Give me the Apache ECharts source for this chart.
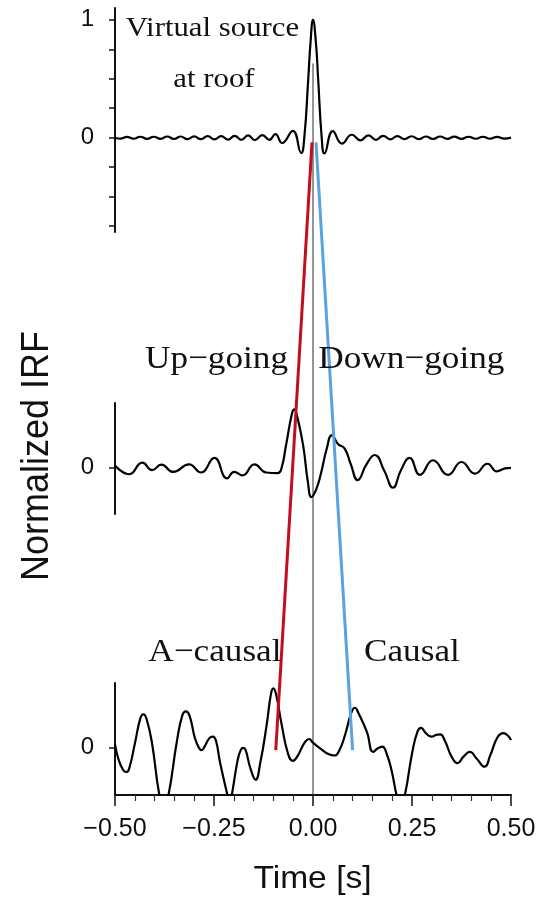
<!DOCTYPE html>
<html>
<head>
<meta charset="utf-8">
<script src="https://cdn.jsdelivr.net/npm/echarts@6/dist/echarts.min.js"></script>
<style>
  html, body { margin: 0; padding: 0; background: #fff; }
  #chart { width: 556px; height: 902px; }
</style>
</head>
<body>
<div id="chart"></div>
<script>
// Time window of the impulse response functions (s)
const timeRange = [-0.5, 0.5];
// Shared amplitude window of every panel (normalized units)
const ampRange = [-0.8, 1.1];

// Axis ticks
const timeTickLabels = [-0.5, -0.25, 0, 0.25, 0.5];
const roofTicks = [-0.75, -0.5, -0.25, 0, 0.25, 0.5, 0.75, 1];
const roofTickLabels = [0, 1];
const zeroTick = [0];

// Virtual source at roof: [time s, normalized IRF]
const roofIRF = [
  [-0.500, 0.000], [-0.486, -0.008], [-0.470, 0.007], [-0.453, -0.009], [-0.436, 0.008],
  [-0.419, -0.010], [-0.402, 0.008], [-0.385, -0.010], [-0.368, 0.010], [-0.351, -0.011],
  [-0.334, 0.010], [-0.317, -0.012], [-0.300, 0.011], [-0.283, -0.013], [-0.266, 0.013],
  [-0.249, -0.014], [-0.232, 0.014], [-0.215, -0.016], [-0.198, 0.016], [-0.181, -0.018],
  [-0.164, 0.020], [-0.147, -0.020], [-0.128, 0.022], [-0.110, -0.018], [-0.095, 0.030],
  [-0.078, -0.045], [-0.051, 0.058], [-0.030, -0.130], [-0.022, 0.000], [-0.012, 0.500],
  [-0.006, 0.820], [0.000, 1.000], [0.007, 0.820], [0.013, 0.500], [0.022, 0.000],
  [0.029, -0.134], [0.050, 0.055], [0.073, -0.050], [0.098, 0.025], [0.120, -0.022],
  [0.140, 0.020], [0.159, -0.018], [0.177, 0.016], [0.195, -0.014], [0.213, 0.014],
  [0.231, -0.012], [0.249, 0.012], [0.267, -0.012], [0.285, 0.010], [0.303, -0.011],
  [0.321, 0.010], [0.339, -0.010], [0.357, 0.009], [0.375, -0.010], [0.393, 0.008],
  [0.411, -0.009], [0.429, 0.008], [0.447, -0.009], [0.465, 0.007], [0.483, -0.008],
  [0.500, 0.000]
];

// Up-going (t < 0) / down-going (t > 0) wavefield
const updownIRF = [
  [-0.500, 0.03], [-0.464, -0.12], [-0.431, 0.08], [-0.406, -0.05], [-0.383, 0.046],
  [-0.353, -0.08], [-0.313, 0.05], [-0.283, -0.09], [-0.249, 0.16], [-0.217, -0.19],
  [-0.199, -0.08], [-0.178, -0.14], [-0.148, 0.05], [-0.118, -0.09], [-0.089, -0.10],
  [-0.080, -0.03], [-0.068, 0.38], [-0.053, 0.92], [-0.047, 0.99], [-0.041, 0.90],
  [-0.025, 0.38], [-0.013, -0.25], [-0.004, -0.51], [0.008, -0.38], [0.021, -0.08],
  [0.034, 0.30], [0.048, 0.55], [0.063, 0.40], [0.080, 0.32], [0.095, 0.06],
  [0.113, -0.22], [0.135, 0.05], [0.156, 0.21], [0.180, -0.06], [0.202, -0.35],
  [0.222, -0.05], [0.244, 0.16], [0.270, -0.13], [0.303, 0.12], [0.341, -0.13],
  [0.375, 0.09], [0.409, -0.11], [0.441, 0.06], [0.464, -0.07], [0.485, -0.02],
  [0.500, -0.01]
];

// A-causal (t < 0) / causal (t > 0) response
const causalIRF = [
  [-0.500, 0.06], [-0.490, -0.22], [-0.479, -0.38], [-0.472, -0.41], [-0.465, -0.37],
  [-0.449, 0.10], [-0.436, 0.50], [-0.428, 0.57], [-0.420, 0.48], [-0.407, 0.10],
  [-0.388, -0.80], [-0.377, -1.02], [-0.365, -0.80], [-0.344, 0.10], [-0.330, 0.55],
  [-0.321, 0.62], [-0.312, 0.55], [-0.298, 0.16], [-0.288, 0.00], [-0.281, -0.04],
  [-0.274, 0.02], [-0.262, 0.16], [-0.253, 0.19], [-0.245, 0.12], [-0.235, -0.24],
  [-0.216, -0.80], [-0.210, -0.95], [-0.205, -0.80], [-0.190, -0.20], [-0.182, -0.03],
  [-0.176, 0.00], [-0.170, -0.04], [-0.158, -0.35], [-0.145, -0.54], [-0.133, -0.25],
  [-0.117, 0.39], [-0.106, 0.92], [-0.100, 1.01], [-0.093, 0.90], [-0.079, 0.39],
  [-0.063, -0.10], [-0.051, -0.22], [-0.040, -0.15], [-0.020, 0.10], [-0.009, 0.15],
  [-0.002, 0.10], [0.018, -0.01], [0.040, -0.11], [0.054, -0.13], [0.066, -0.05],
  [0.081, 0.22], [0.097, 0.60], [0.106, 0.68], [0.114, 0.60], [0.136, 0.27],
  [0.152, -0.07], [0.163, -0.01], [0.175, 0.02], [0.186, -0.10], [0.199, -0.40],
  [0.211, -0.80], [0.221, -1.00], [0.232, -0.80], [0.250, -0.10], [0.264, 0.28],
  [0.273, 0.34], [0.285, 0.25], [0.300, 0.19], [0.311, 0.22], [0.321, 0.23],
  [0.333, 0.12], [0.350, -0.15], [0.365, -0.26], [0.380, -0.15], [0.396, -0.07],
  [0.413, -0.18], [0.433, -0.32], [0.448, -0.12], [0.466, 0.18], [0.481, 0.25],
  [0.493, 0.20], [0.500, 0.13]
];

// Move-out lines: start on the roof panel, end on the bottom panel ([t, v] in each panel)
const upGoingLine = [[-0.0025, -0.04], [-0.094, -0.04]];
const downGoingLine = [[0.0076, -0.04], [0.100, -0.04]];
// Reference line at zero lag
const zeroLagLine = [[0, 0.63], [0, -0.8]];

const panelNames = ['Virtual source', 'at roof', 'Up\u2212going', 'Down\u2212going', 'A\u2212causal', 'Causal'];
const xTitle = 'Time [s]';
const yTitle = 'Normalized IRF';

const SANS = '"Liberation Sans", Arial, sans-serif';
const SERIF = '"Liberation Serif", "Times New Roman", serif';
const fmtMinus = v => (v < 0 ? '\u2212' : '') + Math.abs(v).toFixed(2);

const gridBox = [
  { left: 115, width: 396, top: 8, height: 224 },
  { left: 115, width: 396, top: 403, height: 111 },
  { left: 115, width: 396, top: 683, height: 112 }
];

function yAxisFor(i, ticks, labels) {
  return {
    type: 'value', gridIndex: i, min: ampRange[0], max: ampRange[1],
    axisLine: { show: true, onZero: false, lineStyle: { color: '#111', width: 2 } },
    axisTick: { show: true, customValues: ticks, length: 6, lineStyle: { color: '#111', width: 1.5 } },
    axisLabel: {
      show: true, customValues: labels, margin: 21,
      fontSize: 24, fontFamily: SANS, color: '#111',
      formatter: v => String(v)
    },
    splitLine: { show: false }
  };
}

function xAxisFor(i, visible) {
  return {
    type: 'value', gridIndex: i, min: timeRange[0], max: timeRange[1], interval: 0.25,
    show: visible,
    axisLine: { show: visible, onZero: false, lineStyle: { color: '#111', width: 2 } },
    axisTick: { show: visible, length: 11, lineStyle: { color: '#111', width: 1.5 } },
    minorTick: { show: visible, splitNumber: 5, length: 6, lineStyle: { color: '#333', width: 1.2 } },
    axisLabel: {
      show: visible, margin: 22, fontSize: 25, fontFamily: SANS, color: '#111',
      customValues: timeTickLabels, formatter: fmtMinus
    },
    splitLine: { show: false }
  };
}

function trace(i, data) {
  return {
    type: 'line', xAxisIndex: i, yAxisIndex: i, data: data,
    smooth: 0.5, showSymbol: false, clip: true, silent: true, z: 3,
    lineStyle: { color: '#000', width: 2.2 }
  };
}

const chart = echarts.init(document.getElementById('chart'), null, { renderer: 'canvas' });

chart.setOption({
  animation: false,
  backgroundColor: '#fff',
  grid: gridBox,
  xAxis: [xAxisFor(0, false), xAxisFor(1, false), xAxisFor(2, true)],
  yAxis: [
    yAxisFor(0, roofTicks, roofTickLabels),
    yAxisFor(1, zeroTick, zeroTick),
    yAxisFor(2, zeroTick, zeroTick)
  ],
  series: [trace(0, roofIRF), trace(1, updownIRF), trace(2, causalIRF)]
});

// Lines spanning several panels are placed through each panel's own scales
const px = (gridIndex, pt) => chart.convertToPixel({ gridIndex: gridIndex }, pt);

function spanLine(id, seg, color, width, z) {
  const a = px(0, seg[0]);
  const b = px(2, seg[1]);
  return {
    type: 'line', id: id, z: z, silent: true,
    shape: { x1: a[0], y1: a[1], x2: b[0], y2: b[1] },
    style: { stroke: color, lineWidth: width }
  };
}

function serifText(id, text, x, y, size) {
  return {
    type: 'text', id: id, x: x, y: y, scaleX: 1.1, z: 20, silent: true,
    style: { text: text, fontSize: size, fontFamily: SERIF, fill: '#111', align: 'left', verticalAlign: 'middle' }
  };
}

chart.setOption({
  graphic: [
    spanLine('zero-lag', zeroLagLine, '#2a2a2a', 1, 1),
    spanLine('up-going', upGoingLine, '#c40d1e', 3, 10),
    spanLine('down-going', downGoingLine, '#5ba3e0', 3, 10),
    serifText('t0', panelNames[0], 125.7, 28.5, 28),
    serifText('t1', panelNames[1], 173.3, 80, 28),
    serifText('t2', panelNames[2], 145, 359.5, 32),
    serifText('t3', panelNames[3], 318.3, 359.5, 32),
    serifText('t4', panelNames[4], 148.3, 652.5, 32),
    serifText('t5', panelNames[5], 364, 652.5, 32),
    {
      type: 'text', id: 'xtitle', x: 312.5, y: 879, scaleX: 1.05, silent: true,
      style: { text: xTitle, fontSize: 32, fontFamily: SANS, fill: '#111', align: 'center', verticalAlign: 'middle' }
    },
    {
      type: 'text', id: 'ytitle', x: 37, y: 456, rotation: Math.PI / 2, scaleY: 1.1, silent: true,
      style: { text: yTitle, fontSize: 36, fontFamily: SANS, fill: '#111', align: 'center', verticalAlign: 'middle' }
    }
  ]
});
</script>
</body>
</html>
